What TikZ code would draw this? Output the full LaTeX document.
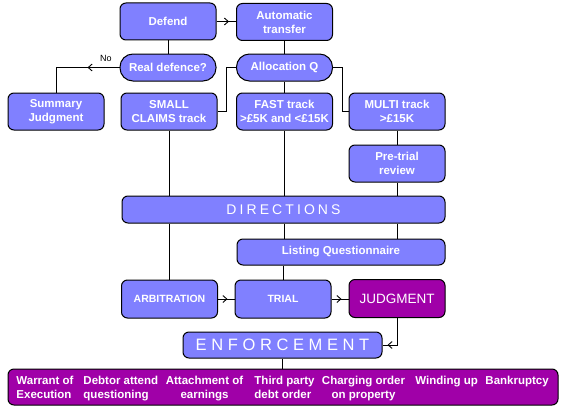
\documentclass[tikz,border=0pt]{standalone}
\usepackage{fontspec}
\setmainfont{Liberation Sans}
\newfontfamily\spacedfont[LetterSpace=22]{Liberation Sans}
\newfontfamily\widefont[LetterSpace=28]{Liberation Sans}
\usetikzlibrary{arrows.meta,decorations.markings}
\definecolor{boxblue}{RGB}{128,128,255}
\definecolor{boxpurple}{RGB}{160,0,168}
\tikzset{
	box/.style={draw,line width=1pt,rounded corners=6pt,fill=boxblue,text=white,align=center,inner sep=0pt,minimum width=96pt,minimum height=37pt,font=\bfseries\fontsize{11.5}{14}\selectfont},
	pill/.style={box,rounded corners=13pt,minimum height=27pt},
	remedy/.style={text=white,inner sep=0pt,font=\bfseries\fontsize{11.5}{14}\selectfont},
	arrowat/.style={postaction={decorate},decoration={markings,mark=at position #1 with {\arrow{Straight Barb[length=4pt,width=7pt]}}}}
}
\begin{document}
\begin{tikzpicture}[x=1pt,y=-1pt,line width=0.9pt]
			\useasboundingbox (0,0) rectangle (561,412);
			\node [box] (Defend) at (168,21.5) {Defend};
			\node [box] (Auto) at (284.5,22) {Automatic\\transfer};
			\node [pill] (RealDef) at (168,67.5) {Real defence?};
			\node [pill] (Alloc) at (284.5,67.5) {Allocation Q};
			\node [box] (Summary) at (56,111.5) {Summary\\Judgment};
			\node [box] (Small) at (169,111.5) {SMALL\\CLAIMS track};
			\node [box] (Fast) at (284.5,111.5) {FAST track\\>£5K and <£15K};
			\node [box] (Multi) at (397,111.5) {MULTI track\\>£15K};
			\node [box] (Pretrial) at (397,163.5) {Pre-trial\\review};
			\node [box,minimum width=323pt,minimum height=27pt,font=\spacedfont\fontsize{14}{14}\selectfont] (Directions) at (283.5,209.5) {DIRECTIONS};
			\node [box,minimum width=208pt,minimum height=26pt] (Listing) at (341,252) {Listing Questionnaire};
			\node [box,minimum height=38pt,font=\bfseries\fontsize{10.5}{12}\selectfont] (Arbitration) at (169.5,299) {ARBITRATION};
			\node [box,minimum height=38pt,font=\bfseries\fontsize{10.5}{12}\selectfont] (Trial) at (283,299) {TRIAL};
			\node [box,minimum height=38pt,fill=boxpurple,font=\fontsize{13.5}{14}\selectfont] (Judgment) at (397,298.5) {JUDGMENT};
			\node [box,minimum width=199pt,minimum height=26pt,font=\widefont\fontsize{16.5}{17}\selectfont] (Enforcement) at (282.5,345) {ENFORCEMENT};
			\node [box,fill=boxpurple,minimum width=550pt,minimum height=36pt] (Remedies) at (283,387) {};
			\node [font=\fontsize{9}{9}\selectfont] (No) at (106,58.5) {No};
			
			\node [remedy,anchor=north west,align=left] (Warrant) at (16,376) {Warrant of\\Execution};
			\node [remedy,anchor=north west,align=left] (Debtor) at (83,376) {Debtor attend\\questioning};
			\node [remedy,anchor=north,align=center] (Attachment) at (204.5,376) {Attachment of\\earnings};
			\node [remedy,anchor=north west,align=left] (ThirdParty) at (254,376) {Third party\\debt order};
			\node [remedy,anchor=north,align=center] (Charging) at (363.5,376) {Charging order\\on property};
			\node [remedy,anchor=north west] (Winding) at (415,376) {Winding up};
			\node [remedy,anchor=north west] (Bankruptcy) at (485,376) {Bankruptcy};
			
			\draw [arrowat=-7pt] (Defend.east) -- (Defend.east -| Auto.west);
			\draw (Defend) -- (RealDef);
			\draw [arrowat=32pt] (RealDef.west) -| (Summary.north);
			\draw (Auto) -- (Alloc);
			\draw (Alloc.west) -- ++(-10,0) |- (Small.east);
			\draw (Alloc) -- (Fast);
			\draw (Alloc.east) -- ++(9,0) |- (Multi.west);
			\draw (Multi) -- (Pretrial);
			\draw (Pretrial.south) -- (Pretrial.south |- Directions.north);
			\draw (Small.south) -- (Small.south |- Directions.north);
			\draw (Fast.south) -- (Fast.south |- Directions.north);
			\draw (Arbitration.north |- Directions.south) -- (Arbitration.north);
			\draw (Fast.south |- Directions.south) -- (Fast.south |- Listing.north);
			\draw (Pretrial.south |- Directions.south) -- (Pretrial.south |- Listing.north);
			\draw (Trial.north |- Listing.south) -- (Trial.north);
			\draw [arrowat=-7pt] (Arbitration) -- (Trial);
			\draw [arrowat=-7pt] (Trial.east) -- (Trial.east -| Judgment.west);
			\draw [arrowat=-5pt] (Judgment.south) |- (Enforcement.east);
			\draw (Enforcement.south) -- (Enforcement.south |- Remedies.north);
		\end{tikzpicture}
\end{document}
